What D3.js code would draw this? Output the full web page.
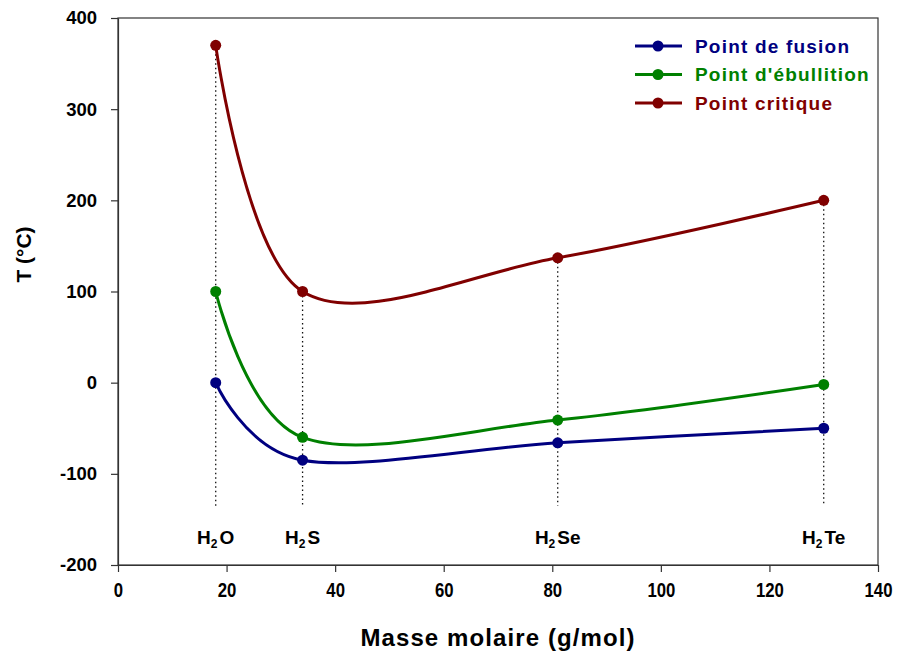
<!DOCTYPE html>
<html>
<head>
<meta charset="utf-8">
<script src="https://cdn.jsdelivr.net/npm/d3@7"></script>
<style>
  body { margin: 0; background: #fff; }
  svg { display: block; font-family: "Liberation Sans", Arial, sans-serif; }
</style>
</head>
<body>
<svg id="chart" width="900" height="661"></svg>
<script>
// Molar masses (g/mol) and compound labels
const compounds = ["H2O", "H2S", "H2Se", "H2Te"];
const molarMass = [18, 34, 81, 130];

// Temperatures (°C)
const meltingPoint = [0, -85, -66, -50];
const boilingPoint = [100, -60, -41, -2];
const criticalPoint = [370, 100, 137, 200];

const seriesNames = ["Point de fusion", "Point d'ébullition", "Point critique"];
const seriesColors = ["#000080", "#008000", "#800000"];

const xTicks = [0, 20, 40, 60, 80, 100, 120, 140];
const yTicks = [-200, -100, 0, 100, 200, 300, 400];

const svg = d3.select("#chart");
const plot = { left: 118, right: 878, top: 18, bottom: 565 };

const x = d3.scaleLinear().domain([0, 140]).range([plot.left, plot.right]);
const y = d3.scaleLinear().domain([-200, 400]).range([plot.bottom, plot.top]);

// Plot frame
svg.append("rect")
  .attr("x", plot.left).attr("y", plot.top)
  .attr("width", plot.right - plot.left).attr("height", plot.bottom - plot.top)
  .attr("fill", "none").attr("stroke", "#333").attr("stroke-width", 1.2);

// Axes (plain hyphen for negative values)
const fmt = d => String(d);
const xAxis = svg.append("g")
  .attr("transform", `translate(0,${plot.bottom})`)
  .call(d3.axisBottom(x).tickValues(xTicks).tickFormat(fmt).tickSize(7).tickPadding(11).tickSizeOuter(0));
const yAxis = svg.append("g")
  .attr("transform", `translate(${plot.left},0)`)
  .call(d3.axisLeft(y).tickValues(yTicks).tickFormat(fmt).tickSize(7).tickPadding(14).tickSizeOuter(0));

[xAxis, yAxis].forEach(g => {
  g.select(".domain").attr("stroke", "#333").attr("stroke-width", 1.2);
  g.selectAll(".tick line").attr("stroke", "#333").attr("stroke-width", 1.2);
  g.selectAll("text").attr("fill", "#000").attr("font-weight", "bold")
    .attr("font-family", "'Liberation Sans', Arial, sans-serif");
});
// Narrow, tall digits along the x axis
xAxis.selectAll(".tick text").attr("font-size", 19.5)
  .attr("transform", "scale(0.86,1)");
yAxis.selectAll("text").attr("font-size", 18.5);

// Axis titles
svg.append("text")
  .attr("x", (plot.left + plot.right) / 2).attr("y", 646)
  .attr("text-anchor", "middle")
  .attr("font-size", 24).attr("font-weight", "bold")
  .attr("letter-spacing", 1.1)
  .text("Masse molaire (g/mol)");

svg.append("text")
  .attr("transform", `translate(31,${(plot.top + plot.bottom) / 2 - 37}) rotate(-90)`)
  .attr("text-anchor", "middle")
  .attr("font-size", 21).attr("font-weight", "bold")
  .text("T (°C)");

// Dotted drop lines from each compound down to its label
const dropBottom = -135;
svg.append("g").selectAll("line")
  .data(molarMass)
  .join("line")
  .attr("x1", d => x(d)).attr("x2", d => x(d))
  .attr("y1", (d, i) => y(criticalPoint[i])).attr("y2", y(dropBottom))
  .attr("stroke", "#111").attr("stroke-width", 1.3)
  .attr("stroke-dasharray", "1.5,3");

// Compound labels with subscript
const labelLevel = -177;
const labels = svg.append("g").selectAll("text")
  .data(compounds)
  .join("text")
  .attr("x", (d, i) => x(molarMass[i]))
  .attr("y", y(labelLevel))
  .attr("text-anchor", "middle")
  .attr("font-size", 19).attr("font-weight", "bold");
labels.each(function(d) {
  const t = d3.select(this);
  t.append("tspan").text(d[0]);
  t.append("tspan").attr("font-size", 12).attr("dy", 4).text(d[1]);
  t.append("tspan").attr("dy", -4).attr("dx", 2).text(d.slice(2));
});

// Smoothed series curves and markers
const series = [meltingPoint, boilingPoint, criticalPoint];
const line = d3.line()
  .x((d, i) => x(molarMass[i]))
  .y(d => y(d))
  .curve(d3.curveCardinal.tension(0));

series.forEach((vals, s) => {
  svg.append("path")
    .datum(vals)
    .attr("d", line)
    .attr("fill", "none")
    .attr("stroke", seriesColors[s])
    .attr("stroke-width", 3);
  svg.append("g").selectAll("circle")
    .data(vals)
    .join("circle")
    .attr("cx", (d, i) => x(molarMass[i]))
    .attr("cy", d => y(d))
    .attr("r", 5.5)
    .attr("fill", seriesColors[s]);
});

// Legend
const legend = svg.append("g").attr("transform", "translate(635,46)");
seriesNames.forEach((name, i) => {
  const row = legend.append("g").attr("transform", `translate(0,${i * 28.5})`);
  row.append("line").attr("x1", 0).attr("x2", 47).attr("y1", 0).attr("y2", 0)
    .attr("stroke", seriesColors[i]).attr("stroke-width", 3);
  row.append("circle").attr("cx", 23).attr("cy", 0).attr("r", 5.5).attr("fill", seriesColors[i]);
  row.append("text").attr("x", 60).attr("y", 6.5)
    .attr("font-size", 19).attr("font-weight", "bold")
    .attr("letter-spacing", 1.2)
    .attr("fill", seriesColors[i])
    .text(name);
});
</script>
</body>
</html>
